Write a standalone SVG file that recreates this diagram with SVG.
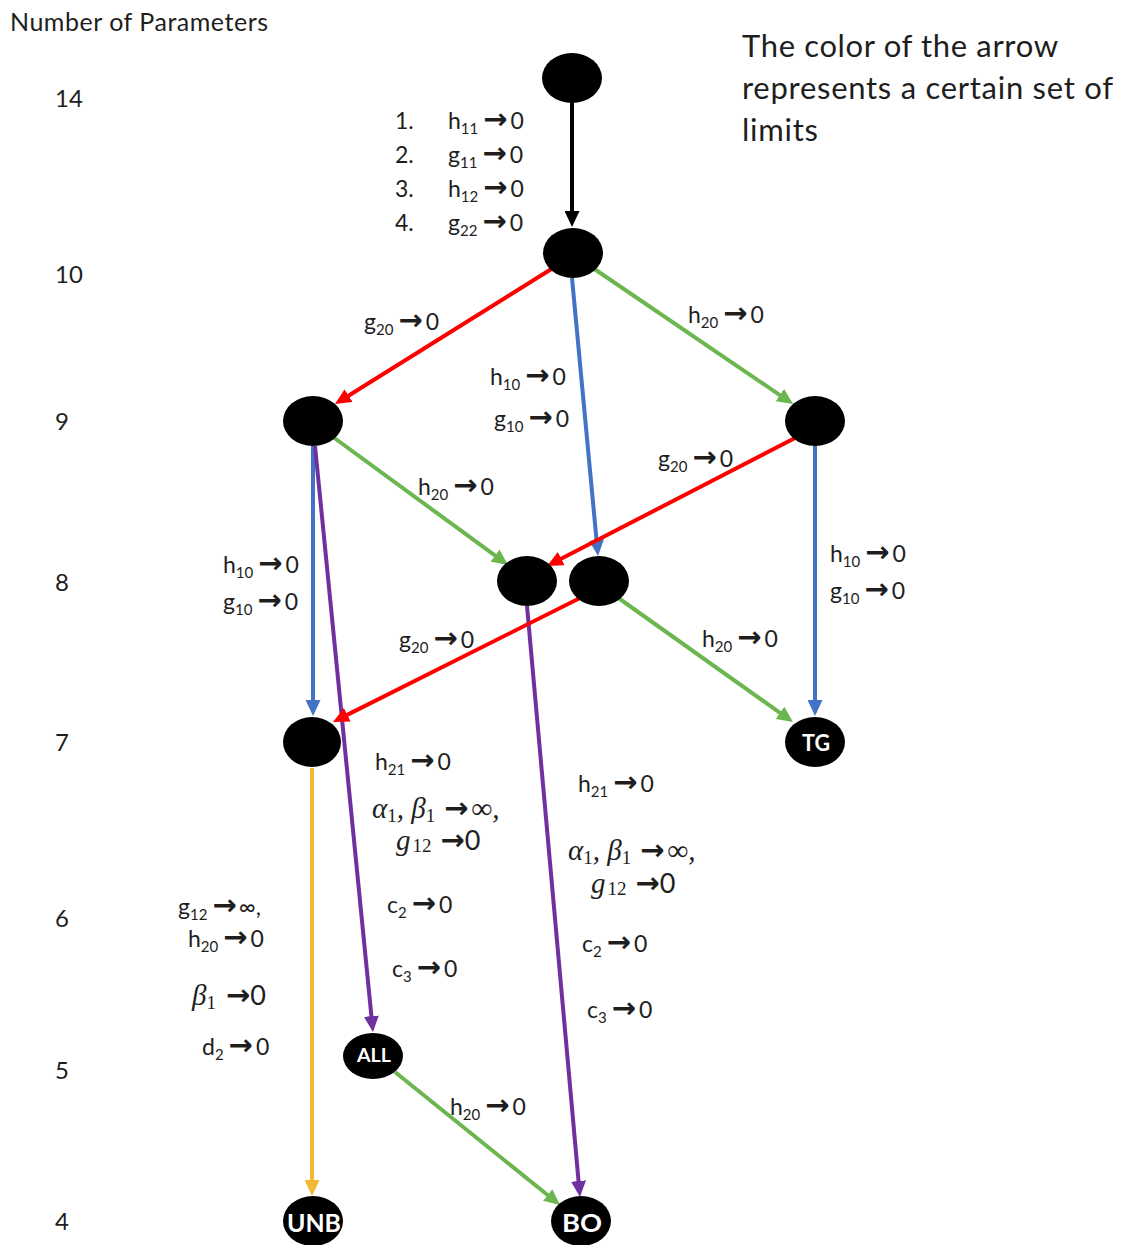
<svg xmlns="http://www.w3.org/2000/svg" width="1122" height="1245" viewBox="0 0 1122 1245">
<style>
  text { font-family: Lato, "Liberation Sans", sans-serif; fill: #1e1e1e; }
  .t { font-size: 25px; }
  .num { font-size: 24px; }
  .leg { font-size: 31px; }
  .lb { font-size: 23px; }
  .s { font-size: 15px; }
  .ar { font-family: "DejaVu Sans", sans-serif; font-weight: bold; font-size: 29px; }
  .m { font-family: "Liberation Serif", serif; font-style: italic; font-size: 29px; }
  .ms { font-style: normal; font-size: 19px; }
  .mz { font-style: normal; font-size: 27px; font-family: Lato, sans-serif; }
  .node ellipse { fill: #000; }
  .nl { fill: #fff; font-weight: bold; text-anchor: middle; }
  .c { stroke-width: 4; fill: none; }
  .k { stroke: #000; }
  .r { stroke: #ff0000; }
  .b { stroke: #4472c4; }
  .g { stroke: #6cb650; }
  .p { stroke: #7030a0; }
  .y { stroke: #f2b935; }
</style>
<defs>
  <marker id="mk" viewBox="0 0 16 15" markerWidth="16" markerHeight="15" refX="4" refY="7.5" orient="auto" markerUnits="userSpaceOnUse"><path d="M0,0 L16,7.5 L0,15 z" fill="#000"/></marker>
  <marker id="mr" viewBox="0 0 16 15" markerWidth="16" markerHeight="15" refX="4" refY="7.5" orient="auto" markerUnits="userSpaceOnUse"><path d="M0,0 L16,7.5 L0,15 z" fill="#ff0000"/></marker>
  <marker id="mb" viewBox="0 0 16 15" markerWidth="16" markerHeight="15" refX="4" refY="7.5" orient="auto" markerUnits="userSpaceOnUse"><path d="M0,0 L16,7.5 L0,15 z" fill="#4472c4"/></marker>
  <marker id="mg" viewBox="0 0 16 15" markerWidth="16" markerHeight="15" refX="4" refY="7.5" orient="auto" markerUnits="userSpaceOnUse"><path d="M0,0 L16,7.5 L0,15 z" fill="#6cb650"/></marker>
  <marker id="mp" viewBox="0 0 16 15" markerWidth="16" markerHeight="15" refX="4" refY="7.5" orient="auto" markerUnits="userSpaceOnUse"><path d="M0,0 L16,7.5 L0,15 z" fill="#7030a0"/></marker>
  <marker id="my" viewBox="0 0 16 15" markerWidth="16" markerHeight="15" refX="4" refY="7.5" orient="auto" markerUnits="userSpaceOnUse"><path d="M0,0 L16,7.5 L0,15 z" fill="#f2b935"/></marker>
</defs>

<g id="axis">
  <text class="t" x="10" y="31" textLength="258">Number of Parameters</text>
  <text class="num" x="55" y="107">14</text>
  <text class="num" x="55" y="283">10</text>
  <text class="num" x="55" y="430">9</text>
  <text class="num" x="55" y="591">8</text>
  <text class="num" x="55" y="751">7</text>
  <text class="num" x="55" y="927">6</text>
  <text class="num" x="55" y="1079">5</text>
  <text class="num" x="55" y="1230">4</text>
</g>

<g id="legend">
  <text class="leg" x="742" y="57" textLength="316">The color of the arrow</text>
  <text class="leg" x="742" y="99" textLength="371">represents a certain set of</text>
  <text class="leg" x="742" y="141" textLength="76">limits</text>
</g>

<g id="connectors">
  <line class="c k" x1="572" y1="103" x2="572" y2="215" marker-end="url(#mk)"/>
  <line class="c r" x1="553" y1="268" x2="345.2" y2="397.7" marker-end="url(#mr)"/>
  <line class="c b" x1="572" y1="278" x2="596.9" y2="544" marker-end="url(#mb)"/>
  <line class="c g" x1="593" y1="268" x2="783.1" y2="397.3" marker-end="url(#mg)"/>
  <line class="c g" x1="333" y1="437" x2="498.3" y2="557.9" marker-end="url(#mg)"/>
  <line class="c b" x1="313" y1="446" x2="313" y2="704" marker-end="url(#mb)"/>
  <line class="c p" x1="315" y1="446" x2="371.8" y2="1020.1" marker-end="url(#mp)"/>
  <line class="c r" x1="797" y1="437" x2="557.7" y2="560.5" marker-end="url(#mr)"/>
  <line class="c b" x1="815" y1="446" x2="815" y2="704" marker-end="url(#mb)"/>
  <line class="c p" x1="527" y1="606" x2="578.9" y2="1185" marker-end="url(#mp)"/>
  <line class="c r" x1="580" y1="598" x2="343.7" y2="716.6" marker-end="url(#mr)"/>
  <line class="c g" x1="617" y1="597" x2="783.2" y2="715.1" marker-end="url(#mg)"/>
  <line class="c y" x1="312" y1="768" x2="312" y2="1184" marker-end="url(#my)"/>
  <line class="c g" x1="395" y1="1072" x2="550.7" y2="1197.5" marker-end="url(#mg)"/>
</g>

<g id="n14" class="node"><ellipse cx="572" cy="78" rx="30" ry="25"/></g>
<g id="n10" class="node"><ellipse cx="573" cy="253" rx="30" ry="25"/></g>
<g id="n9l" class="node"><ellipse cx="313" cy="421" rx="30" ry="25"/></g>
<g id="n9r" class="node"><ellipse cx="815" cy="421" rx="30" ry="25"/></g>
<g id="n8a" class="node"><ellipse cx="527" cy="581" rx="30" ry="25"/></g>
<g id="n8b" class="node"><ellipse cx="599" cy="581" rx="30" ry="25"/></g>
<g id="n7" class="node"><ellipse cx="312" cy="742" rx="29" ry="25"/></g>
<g id="tg" class="node"><ellipse cx="815" cy="742" rx="30" ry="25"/><text class="nl" x="816" y="751" font-size="23" textLength="28" lengthAdjust="spacingAndGlyphs">TG</text></g>
<g id="all" class="node"><ellipse cx="373" cy="1056" rx="30" ry="23"/><text class="nl" x="374" y="1062" font-size="19" textLength="34" lengthAdjust="spacingAndGlyphs">ALL</text></g>
<g id="unb" class="node"><ellipse cx="313" cy="1221" rx="30" ry="25"/><text class="nl" x="314" y="1232" font-size="24" textLength="54" lengthAdjust="spacingAndGlyphs">UNB</text></g>
<g id="bo" class="node"><ellipse cx="581" cy="1221" rx="30" ry="25"/><text class="nl" x="582" y="1232" font-size="24" textLength="40" lengthAdjust="spacingAndGlyphs">BO</text></g>

<g id="labels">
  <text class="lb" x="395" y="129">1.</text>
  <text class="lb" x="395" y="163">2.</text>
  <text class="lb" x="395" y="197">3.</text>
  <text class="lb" x="395" y="231">4.</text>
  <text class="lb" x="448" y="129">h<tspan class="s" dy="5">11</tspan><tspan class="ar" dy="-5" dx="5">→</tspan><tspan dx="3">0</tspan></text>
  <text class="lb" x="448" y="163">g<tspan class="s" dy="5">11</tspan><tspan class="ar" dy="-5" dx="5">→</tspan><tspan dx="3">0</tspan></text>
  <text class="lb" x="448" y="197">h<tspan class="s" dy="5">12</tspan><tspan class="ar" dy="-5" dx="5">→</tspan><tspan dx="3">0</tspan></text>
  <text class="lb" x="448" y="231">g<tspan class="s" dy="5">22</tspan><tspan class="ar" dy="-5" dx="5">→</tspan><tspan dx="3">0</tspan></text>

  <text class="lb" x="364" y="330">g<tspan class="s" dy="5">20</tspan><tspan class="ar" dy="-5" dx="5">→</tspan><tspan dx="3">0</tspan></text>
  <text class="lb" x="688" y="323">h<tspan class="s" dy="5">20</tspan><tspan class="ar" dy="-5" dx="5">→</tspan><tspan dx="3">0</tspan></text>
  <text class="lb" x="490" y="385">h<tspan class="s" dy="5">10</tspan><tspan class="ar" dy="-5" dx="5">→</tspan><tspan dx="3">0</tspan></text>
  <text class="lb" x="494" y="427">g<tspan class="s" dy="5">10</tspan><tspan class="ar" dy="-5" dx="5">→</tspan><tspan dx="3">0</tspan></text>
  <text class="lb" x="658" y="467">g<tspan class="s" dy="5">20</tspan><tspan class="ar" dy="-5" dx="5">→</tspan><tspan dx="3">0</tspan></text>
  <text class="lb" x="418" y="495">h<tspan class="s" dy="5">20</tspan><tspan class="ar" dy="-5" dx="5">→</tspan><tspan dx="3">0</tspan></text>

  <text class="lb" x="223" y="573">h<tspan class="s" dy="5">10</tspan><tspan class="ar" dy="-5" dx="5">→</tspan><tspan dx="3">0</tspan></text>
  <text class="lb" x="223" y="610">g<tspan class="s" dy="5">10</tspan><tspan class="ar" dy="-5" dx="5">→</tspan><tspan dx="3">0</tspan></text>
  <text class="lb" x="399" y="648">g<tspan class="s" dy="5">20</tspan><tspan class="ar" dy="-5" dx="5">→</tspan><tspan dx="3">0</tspan></text>
  <text class="lb" x="830" y="562">h<tspan class="s" dy="5">10</tspan><tspan class="ar" dy="-5" dx="5">→</tspan><tspan dx="3">0</tspan></text>
  <text class="lb" x="830" y="599">g<tspan class="s" dy="5">10</tspan><tspan class="ar" dy="-5" dx="5">→</tspan><tspan dx="3">0</tspan></text>
  <text class="lb" x="702" y="647">h<tspan class="s" dy="5">20</tspan><tspan class="ar" dy="-5" dx="5">→</tspan><tspan dx="3">0</tspan></text>

  <text class="lb" x="375" y="770">h<tspan class="s" dy="5">21</tspan><tspan class="ar" dy="-5" dx="5">→</tspan><tspan dx="3">0</tspan></text>
  <text class="m" x="372" y="818">α<tspan class="ms" dy="4">1</tspan><tspan dy="-4">, β</tspan><tspan class="ms" dy="4">1</tspan><tspan class="ar" dy="-4" dx="9">→</tspan><tspan dx="3">∞,</tspan></text>
  <text class="m" x="396" y="850">g<tspan class="ms" dy="2" dx="2">12</tspan><tspan class="ar" dy="-2" dx="9">→</tspan><tspan class="mz">0</tspan></text>
  <text class="lb" x="387" y="913">c<tspan class="s" dy="5">2</tspan><tspan class="ar" dy="-5" dx="5">→</tspan><tspan dx="3">0</tspan></text>
  <text class="lb" x="392" y="977">c<tspan class="s" dy="5">3</tspan><tspan class="ar" dy="-5" dx="5">→</tspan><tspan dx="3">0</tspan></text>

  <text class="lb" x="178" y="915">g<tspan class="s" dy="5">12</tspan><tspan class="ar" dy="-5" dx="5">→</tspan><tspan dx="2">∞,</tspan></text>
  <text class="lb" x="188" y="947">h<tspan class="s" dy="5">20</tspan><tspan class="ar" dy="-5" dx="5">→</tspan><tspan dx="3">0</tspan></text>
  <text class="m" x="192" y="1005">β<tspan class="ms" dy="4">1</tspan><tspan class="ar" dy="-4" dx="10">→</tspan><tspan class="mz">0</tspan></text>
  <text class="lb" x="202" y="1055">d<tspan class="s" dy="5">2</tspan><tspan class="ar" dy="-5" dx="5">→</tspan><tspan dx="3">0</tspan></text>

  <text class="lb" x="578" y="792">h<tspan class="s" dy="5">21</tspan><tspan class="ar" dy="-5" dx="5">→</tspan><tspan dx="3">0</tspan></text>
  <text class="m" x="568" y="860">α<tspan class="ms" dy="4">1</tspan><tspan dy="-4">, β</tspan><tspan class="ms" dy="4">1</tspan><tspan class="ar" dy="-4" dx="9">→</tspan><tspan dx="3">∞,</tspan></text>
  <text class="m" x="591" y="893">g<tspan class="ms" dy="2" dx="2">12</tspan><tspan class="ar" dy="-2" dx="9">→</tspan><tspan class="mz">0</tspan></text>
  <text class="lb" x="582" y="952">c<tspan class="s" dy="5">2</tspan><tspan class="ar" dy="-5" dx="5">→</tspan><tspan dx="3">0</tspan></text>
  <text class="lb" x="587" y="1018">c<tspan class="s" dy="5">3</tspan><tspan class="ar" dy="-5" dx="5">→</tspan><tspan dx="3">0</tspan></text>

  <text class="lb" x="450" y="1115">h<tspan class="s" dy="5">20</tspan><tspan class="ar" dy="-5" dx="5">→</tspan><tspan dx="3">0</tspan></text>
</g>
</svg>
